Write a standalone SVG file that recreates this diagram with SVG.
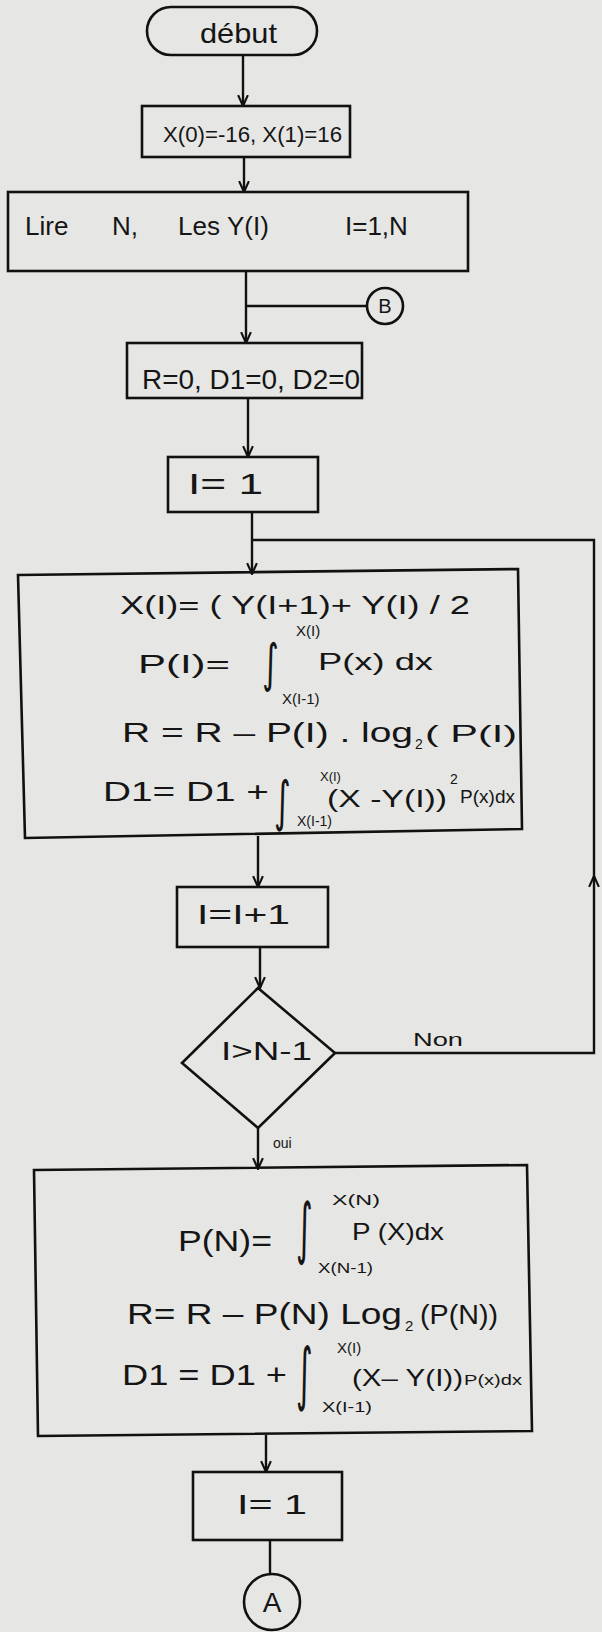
<svg xmlns="http://www.w3.org/2000/svg" width="602" height="1632" viewBox="0 0 602 1632">
<defs>
<marker id="arr" viewBox="0 0 12 12" refX="11" refY="6" markerWidth="13" markerHeight="13" markerUnits="userSpaceOnUse" orient="auto">
<path d="M1,1.5 L11,6 L1,10.5" fill="none" stroke="#111" stroke-width="2"/>
</marker>
<style>
.shape{fill:none;stroke:#111;stroke-width:2.6;stroke-linejoin:miter}
.conn{fill:none;stroke:#111;stroke-width:2.4}
text{font-family:"Liberation Sans",Arial,sans-serif;fill:#151515}
.int{font-family:"DejaVu Sans",sans-serif;font-size:40px}
.lim{font-size:15px}
</style>
</defs>
<rect width="602" height="1632" fill="#e6e6e4"/>

<g id="connectors">
<path class="conn" d="M243,55 V106" marker-end="url(#arr)"/>
<path class="conn" d="M244,157 V192" marker-end="url(#arr)"/>
<path class="conn" d="M246,271 V343" marker-end="url(#arr)"/>
<path class="conn" d="M367,306 H246"/>
<path class="conn" d="M248,398 V457" marker-end="url(#arr)"/>
<path class="conn" d="M252,512 V574" marker-end="url(#arr)"/>
<path class="conn" d="M258,836 V887" marker-end="url(#arr)"/>
<path class="conn" d="M260,947 V988" marker-end="url(#arr)"/>
<path class="conn" d="M335,1053 H594 V876" marker-end="url(#arr)"/>
<path class="conn" d="M594,876 V540 H252"/>
<path class="conn" d="M258,1128 V1169" marker-end="url(#arr)"/>
<path class="conn" d="M266,1435 V1472" marker-end="url(#arr)"/>
<path class="conn" d="M270,1540 V1574"/>
<text x="413" y="1046" style="font-size:18px" textLength="50" lengthAdjust="spacingAndGlyphs">Non</text>
<text x="273" y="1148" style="font-size:14px">oui</text>
</g>

<g id="debut">
<rect class="shape" x="147" y="7" width="170" height="48" rx="24"/>
<text x="200" y="43" style="font-size:28px" textLength="77" lengthAdjust="spacingAndGlyphs">début</text>
</g>

<g id="init-x">
<rect class="shape" x="142" y="106" width="208" height="51"/>
<text x="163" y="142" style="font-size:22px" textLength="179" lengthAdjust="spacingAndGlyphs">X(0)=-16, X(1)=16</text>
</g>

<g id="lire">
<rect class="shape" x="8" y="192" width="460" height="79"/>
<text y="235" style="font-size:26px"><tspan x="25">Lire</tspan><tspan x="112">N,</tspan><tspan x="178">Les</tspan><tspan x="227">Y(I)</tspan><tspan x="345">I=1,N</tspan></text>
</g>

<g id="connector-b">
<circle class="shape" cx="385" cy="306" r="18"/>
<text x="385" y="313" text-anchor="middle" style="font-size:20px">B</text>
</g>

<g id="init-r">
<rect class="shape" x="127" y="343" width="235" height="55"/>
<text x="142" y="389" style="font-size:28px" textLength="218" lengthAdjust="spacingAndGlyphs">R=0, D1=0, D2=0</text>
</g>

<g id="i-eq-1a">
<rect class="shape" x="168" y="457" width="150" height="55"/>
<text x="188" y="494" style="font-size:30px" textLength="75" lengthAdjust="spacingAndGlyphs">I= 1</text>
</g>

<g id="loop-body">
<polygon class="shape" points="18,575 518,569 522,829 25,838"/>
<text x="120" y="614" style="font-size:26px" textLength="350" lengthAdjust="spacingAndGlyphs">X(I)= ( Y(I+1)+ Y(I) / 2</text>
<text x="296" y="636" class="lim">X(I)</text>
<text x="138" y="673" style="font-size:26px" textLength="92" lengthAdjust="spacingAndGlyphs">P(I)=</text>
<text class="int" transform="translate(262 681) scale(0.8 1.3)">∫</text>
<text x="318" y="670" style="font-size:24px" textLength="115" lengthAdjust="spacingAndGlyphs">P(x) dx</text>
<text x="282" y="704" class="lim">X(I-1)</text>
<text x="122" y="742" style="font-size:28px" textLength="291" lengthAdjust="spacingAndGlyphs">R = R – P(I) . log</text>
<text x="415" y="749" style="font-size:14px">2</text>
<text x="425" y="742" style="font-size:24px" textLength="92" lengthAdjust="spacingAndGlyphs">( P(I)</text>
<text x="103" y="801" style="font-size:28px" textLength="166" lengthAdjust="spacingAndGlyphs">D1= D1 +</text>
<text class="int" transform="translate(274 820) scale(0.8 1.36)">∫</text>
<text x="320" y="781" style="font-size:13px">X(I)</text>
<text x="327" y="807" style="font-size:23px" textLength="120" lengthAdjust="spacingAndGlyphs">(X -Y(I))</text>
<text x="450" y="784" style="font-size:14px">2</text>
<text x="460" y="803" style="font-size:18px" textLength="55" lengthAdjust="spacingAndGlyphs">P(x)dx</text>
<text x="297" y="826" style="font-size:14px">X(I-1)</text>
</g>

<g id="incr">
<rect class="shape" x="177" y="887" width="151" height="60"/>
<text x="197" y="924" style="font-size:28px" textLength="93" lengthAdjust="spacingAndGlyphs">I=I+1</text>
</g>

<g id="test">
<polygon class="shape" points="258,988 335,1053 258,1128 182,1063"/>
<text x="221" y="1060" style="font-size:26px" textLength="91" lengthAdjust="spacingAndGlyphs">I&gt;N-1</text>
</g>

<g id="final-body">
<polygon class="shape" points="34,1170 527,1165 532,1431 38,1436"/>
<text x="332" y="1205" class="lim" textLength="48" lengthAdjust="spacingAndGlyphs">X(N)</text>
<text x="178" y="1251" style="font-size:30px" textLength="94" lengthAdjust="spacingAndGlyphs">P(N)=</text>
<text class="int" transform="translate(296 1251) scale(0.8 1.67)">∫</text>
<text x="352" y="1240" style="font-size:24px" textLength="92" lengthAdjust="spacingAndGlyphs">P (X)dx</text>
<text x="318" y="1273" class="lim" textLength="55" lengthAdjust="spacingAndGlyphs">X(N-1)</text>
<text x="127" y="1324" style="font-size:30px" textLength="275" lengthAdjust="spacingAndGlyphs">R= R – P(N) Log</text>
<text x="405" y="1331" style="font-size:15px">2</text>
<text x="420" y="1324" style="font-size:28px" textLength="78" lengthAdjust="spacingAndGlyphs">(P(N))</text>
<text x="337" y="1353" class="lim">X(I)</text>
<text x="122" y="1385" style="font-size:30px" textLength="165" lengthAdjust="spacingAndGlyphs">D1 = D1 +</text>
<text class="int" transform="translate(296 1397) scale(0.8 1.72)">∫</text>
<text x="352" y="1386" style="font-size:24px" textLength="111" lengthAdjust="spacingAndGlyphs">(X– Y(I))</text>
<text x="464" y="1385" style="font-size:15px" textLength="58" lengthAdjust="spacingAndGlyphs">P(x)dx</text>
<text x="322" y="1412" class="lim" textLength="50" lengthAdjust="spacingAndGlyphs">X(I-1)</text>
</g>

<g id="i-eq-1b">
<rect class="shape" x="193" y="1472" width="149" height="68"/>
<text x="237" y="1514" style="font-size:28px" textLength="70" lengthAdjust="spacingAndGlyphs">I= 1</text>
</g>

<g id="connector-a">
<circle class="shape" cx="272" cy="1602" r="28"/>
<text x="272" y="1612" text-anchor="middle" style="font-size:28px">A</text>
</g>
</svg>
